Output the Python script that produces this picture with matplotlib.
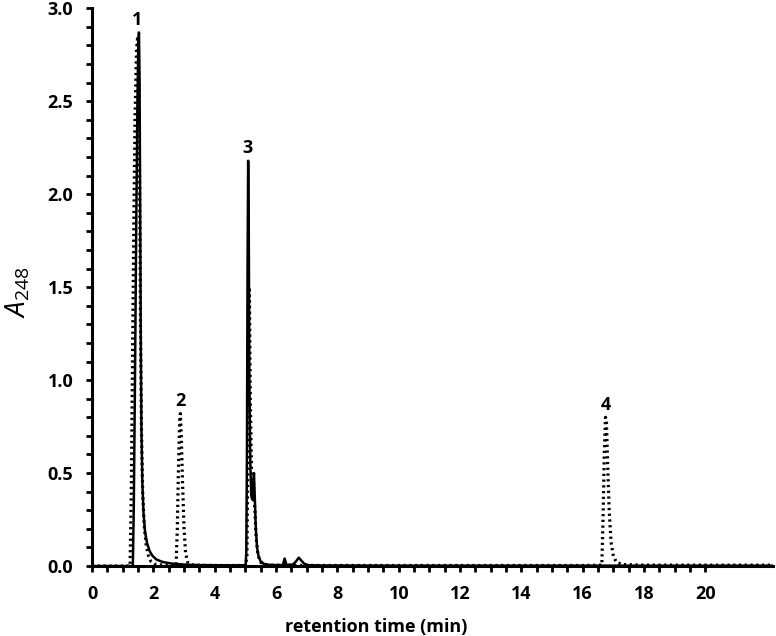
import numpy as np
import matplotlib
matplotlib.use('Agg')
import matplotlib.pyplot as plt
from matplotlib.ticker import FixedLocator, FormatStrFormatter

plt.rcParams['font.family'] = ['Open Sans', 'DejaVu Sans']
plt.rcParams['mathtext.fontset'] = 'custom'
plt.rcParams['mathtext.rm'] = 'Open Sans'
plt.rcParams['mathtext.it'] = 'Open Sans:italic'

# solid trace (time in min, absorbance at 248 nm)
solid_t = [0.0, 1.33, 1.36, 1.40, 1.44, 1.48, 1.51, 1.53, 1.55, 1.57, 1.59, 1.61, 1.64,
           1.68, 1.73, 1.80, 1.88, 1.97, 2.10, 2.30, 2.60, 3.00, 3.50, 4.50, 5.01,
           5.03, 5.05, 5.07, 5.09, 5.11, 5.13, 5.16, 5.19, 5.22, 5.25, 5.28, 5.31,
           5.34, 5.38, 5.43, 5.50, 5.60, 5.75, 6.00, 6.22, 6.28, 6.34, 6.55, 6.65,
           6.74, 6.82, 6.92, 7.05, 7.50, 10.0, 15.0, 20.0, 22.2]
solid_a = [0.0, 0.0, 0.3, 1.0, 1.8, 2.5, 2.82, 2.87, 2.6, 1.9, 1.2, 0.75, 0.45,
           0.28, 0.18, 0.12, 0.08, 0.055, 0.035, 0.022, 0.013, 0.008, 0.005, 0.004, 0.004,
           0.08, 0.6, 1.6, 2.18, 1.8, 1.0, 0.55, 0.38, 0.36, 0.44, 0.50, 0.35,
           0.20, 0.10, 0.05, 0.025, 0.012, 0.007, 0.005, 0.005, 0.04, 0.006, 0.008, 0.025,
           0.045, 0.03, 0.012, 0.005, 0.003, 0.002, 0.002, 0.002, 0.002]

# dotted trace
dotted_t = [0.0, 1.24, 1.28, 1.32, 1.36, 1.40, 1.45, 1.49, 1.52, 1.55, 1.58, 1.61,
            1.65, 1.70, 1.76, 1.83, 1.92, 2.05, 2.30, 2.70, 2.74, 2.78, 2.82, 2.86,
            2.88, 2.91, 2.95, 3.00, 3.05, 3.12, 3.30, 4.00, 5.00, 5.05, 5.08, 5.11,
            5.13, 5.16, 5.20, 5.24, 5.28, 5.31, 5.35, 5.41, 5.50, 5.70, 7.00, 16.0,
            16.62, 16.66, 16.70, 16.74, 16.77, 16.81, 16.86, 16.92, 17.0, 17.1, 17.3,
            18.0, 22.2]
dotted_a = [0.0, 0.0, 0.4, 1.1, 1.8, 2.4, 2.78, 2.85, 2.7, 2.1, 1.3, 0.75,
            0.4, 0.22, 0.12, 0.06, 0.025, 0.01, 0.005, 0.003, 0.003, 0.2, 0.55, 0.8,
            0.82, 0.7, 0.45, 0.2, 0.07, 0.02, 0.005, 0.003, 0.003, 0.05, 0.6, 1.4,
            1.5, 0.9, 0.5, 0.35, 0.37, 0.3, 0.15, 0.06, 0.02, 0.005, 0.003, 0.003,
            0.005, 0.25, 0.6, 0.8, 0.78, 0.55, 0.3, 0.13, 0.05, 0.02, 0.008,
            0.005, 0.005]

peak_names = ['1', '2', '3', '4']
peak_x = [1.47, 2.88, 5.07, 16.74]
peak_y = [2.89, 0.84, 2.20, 0.82]

fig = plt.figure(figsize=(7.76, 6.36), dpi=100)
ax = fig.add_axes([0.1186, 0.110, 0.8775, 0.877])

ax.plot(dotted_t, dotted_a, color='black', lw=2.3, linestyle=(0, (0.7, 1.1)),
        solid_capstyle='butt', dash_capstyle='butt')
ax.plot(solid_t, solid_a, color='black', lw=1.8)

for name, x, y in zip(peak_names, peak_x, peak_y):
    ax.text(x, y, name, ha='center', va='bottom', fontsize=13, fontweight='bold')

ax.set_xlim(0, 22.2)
ax.set_ylim(0, 3.0)
ax.xaxis.set_major_locator(FixedLocator(np.arange(0, 21, 2)))
ax.xaxis.set_minor_locator(FixedLocator(np.arange(0, 20.01, 0.5)))
ax.yaxis.set_major_locator(FixedLocator(np.arange(0, 3.01, 0.5)))
ax.yaxis.set_minor_locator(FixedLocator(np.arange(0, 3.01, 0.1)))
ax.yaxis.set_major_formatter(FormatStrFormatter('%.1f'))

for s in ['top', 'right']:
    ax.spines[s].set_visible(False)
for s in ['left', 'bottom']:
    ax.spines[s].set_linewidth(2.2)

ax.tick_params(which='both', direction='out', width=2, length=4, labelsize=13)
ax.tick_params(which='major', length=4.5, pad=9)
for lab in ax.get_xticklabels() + ax.get_yticklabels():
    lab.set_fontweight('bold')

ax.set_xlabel('retention time (min)', fontsize=13, fontweight='bold')
ax.xaxis.set_label_coords(0.417, -0.093)
ax.set_ylabel(r'$\mathit{A}_{\mathrm{248}}$', fontsize=20)
ax.yaxis.set_label_coords(-0.088, 0.49)

fig.savefig('out.png', dpi=100)
